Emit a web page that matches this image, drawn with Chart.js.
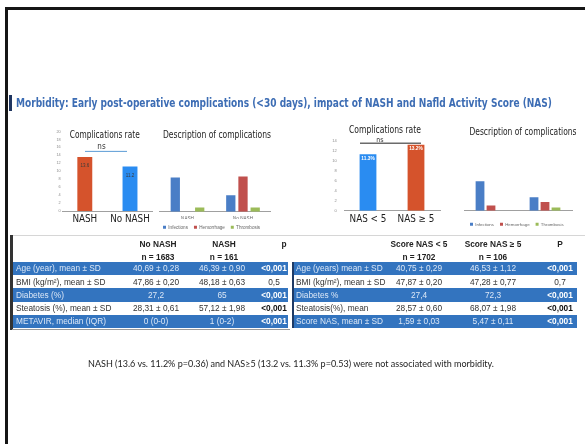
<!DOCTYPE html>
<html>
<head>
<meta charset="utf-8">
<title>Morbidity – early post-operative complications</title>
<script src="https://cdn.jsdelivr.net/npm/chart.js@4.4.1/dist/chart.umd.min.js"></script>
<style>
  html, body { margin: 0; padding: 0; background: #fff; }
  body { position: relative; width: 585px; height: 444px; overflow: hidden; }
  .frame { position: absolute; background: #161616; }
  #pic { position: absolute; left: 0; top: 0; width: 585px; height: 444px; filter: blur(0.3px); }
  #pic canvas { position: absolute; }
  .txt { position: absolute; white-space: nowrap; }
  .box { position: absolute; }
</style>
</head>
<body>
<div class="frame" style="left:5px;top:7px;width:580px;height:3px"></div>
<div class="frame" style="left:5px;top:7px;width:3px;height:437px"></div>
<div id="pic">
  <div class="box" style="left:9px;top:95px;width:3px;height:16px;background:#1f3560"></div>
  <div class="box" style="left:12px;top:235px;width:573px;height:1px;background:#d6d6d6"></div>
  <canvas id="rateNash"></canvas>
  <canvas id="descNash"></canvas>
  <canvas id="rateNas"></canvas>
  <canvas id="descNas"></canvas>
</div>
<script>
// ---------- data ----------
const heading = 'Morbidity: Early post-operative complications (<30 days), impact of NASH and Nafld Activity Score (NAS)';
const footnote = 'NASH (13.6 vs. 11.2% p=0.36) and NAS\u22655 (13.2 vs. 11.3% p=0.53) were not associated with morbidity.';

// complications rate (%)
const rateNashCategories = ['NASH', 'No NASH'];
const rateNashValues = [13.6, 11.2];
const rateNasCategories = ['NAS < 5', 'NAS \u2265 5'];
const rateNasValues = [11.3, 13.2];

// description of complications
const complicationTypes = ['Infections', 'Hemorrhage', 'Thrombosis'];
const descNashCategories = ['NASH', 'No NASH'];
const descNashInfections = [4.2, 2.0];
const descNashHemorrhage = [0, 4.3];
const descNashThrombosis = [0.5, 0.5];
const descNasCategories = ['NAS < 5', 'NAS \u2265 5'];
const descNasInfections = [4.6, 2.1];
const descNasHemorrhage = [0.8, 1.35];
const descNasThrombosis = [0, 0.5];

// axis ranges
const rateNashAxis = { max: 20, step: 2 };
const descNashAxis = { max: 10, step: 1 };
const rateNasAxis = { max: 14, step: 2 };
const descNasAxis = { max: 10, step: 1 };

// characteristics tables
const nashHeaders = [['No NASH', 'NASH', 'p'], ['n = 1683', 'n = 161', '']];
const nashRowLabels = ['Age (year), mean \u00b1 SD', 'BMI (kg/m\u00b2), mean \u00b1 SD', 'Diabetes (%)', 'Steatosis (%), mean \u00b1 SD', 'METAVIR, median (IQR)'];
const noNashValues = ['40,69 \u00b1 0,28', '47,86 \u00b1 0,20', '27,2', '28,31 \u00b1 0,61', '0 (0-0)'];
const nashValues = ['46,39 \u00b1 0,90', '48,18 \u00b1 0,63', '65', '57,12 \u00b1 1,98', '1 (0-2)'];
const nashP = ['<0,001', '0,5', '<0,001', '<0,001', '<0,001'];

const nasHeaders = [['Score NAS < 5', 'Score NAS \u2265 5', 'P'], ['n = 1702', 'n = 106', '']];
const nasRowLabels = ['Age (years) mean \u00b1 SD', 'BMI (kg/m\u00b2), mean \u00b1 SD', 'Diabetes %', 'Steatosis(%), mean', 'Score NAS, mean \u00b1 SD'];
const nasLowValues = ['40,75 \u00b1 0,29', '47,87 \u00b1 0,20', '27,4', '28,57 \u00b1 0,60', '1,59 \u00b1 0,03'];
const nasHighValues = ['46,53 \u00b1 1,12', '47,28 \u00b1 0,77', '72,3', '68,07 \u00b1 1,98', '5,47 \u00b1 0,11'];
const nasP = ['<0,001', '0,7', '<0,001', '<0,001', '<0,001'];

// ---------- styling ----------
const SANS = "'Liberation Sans', Arial, sans-serif";
const NARROW = "'Liberation Sans Narrow', 'DejaVu Sans Condensed', 'Liberation Sans', sans-serif";
const ORANGE = '#d5532c';
const BRIGHT_BLUE = '#2a8cf1';
const INFECTION_BLUE = '#4a7ec6';
const HEMORRHAGE_RED = '#c0504d';
const THROMBOSIS_GREEN = '#9bbb59';
const BAND = '#3374bf';
const BAND_TEXT = '#dbe7f6';

const pic = document.getElementById('pic');

function addText(parent, text, o) {
  const el = document.createElement('div');
  el.className = 'txt';
  el.textContent = text;
  const size = o.size || 8.3;
  const lh = size * 1.25;
  el.style.font = `${o.weight || 'normal'} ${size}px/${lh}px ${o.family || SANS}`;
  el.style.color = o.color || '#333';
  el.style.top = (o.cy - lh / 2) + 'px';
  parent.appendChild(el);
  const w = el.getBoundingClientRect().width;
  el.style.left = (o.align === 'center' ? o.x - w / 2 : o.x) + 'px';
  if (o.fit) {
    el.style.transformOrigin = o.align === 'center' ? 'center center' : 'left center';
    el.style.transform = `scaleX(${o.fit / w})`;
  }
  return el;
}

function addBox(parent, x, y, w, h, color) {
  const el = document.createElement('div');
  el.className = 'box';
  Object.assign(el.style, { left: x + 'px', top: y + 'px', width: w + 'px', height: h + 'px', background: color });
  parent.appendChild(el);
}

// heading
addText(pic, heading, { x: 16, cy: 103, size: 13, weight: 'bold', family: NARROW, color: '#3d6db4', fit: 536 });

// ---------- tables ----------
function drawTable(t) {
  t.headers.forEach((line, li) => line.forEach((h, ci) => {
    if (h) addText(pic, h, { x: t.headerCenters[ci], cy: t.headerY[li], align: 'center', weight: 'bold', color: '#222' });
  }));
  t.labels.forEach((label, r) => {
    const top = t.rowTop + r * t.rowH;
    const banded = r % 2 === 0;
    if (banded) addBox(pic, t.x0, top, t.x1 - t.x0, t.rowH, BAND);
    const cy = top + t.rowH / 2;
    addText(pic, label, { x: t.labelX, cy, color: banded ? BAND_TEXT : '#333' });
    t.columns.forEach((col, ci) => {
      const isP = ci === t.columns.length - 1;
      const strong = isP && col[r].startsWith('<');
      addText(pic, col[r], {
        x: t.colCenters[ci], cy, align: 'center', weight: strong ? 'bold' : 'normal',
        color: banded ? (strong ? '#ffffff' : BAND_TEXT) : (strong ? '#111' : '#333')
      });
    });
  });
}

drawTable({
  x0: 12.5, x1: 288, labelX: 16, colCenters: [156, 222, 274], headerCenters: [158, 224, 284],
  headerY: [244, 257], rowTop: 262, rowH: 13.2, headers: nashHeaders, labels: nashRowLabels,
  columns: [noNashValues, nashValues, nashP]
});
drawTable({
  x0: 293.5, x1: 577, labelX: 296, colCenters: [419, 493, 560], headerCenters: [419, 493, 560],
  headerY: [244, 257], rowTop: 262, rowH: 13.2, headers: nasHeaders, labels: nasRowLabels,
  columns: [nasLowValues, nasHighValues, nasP]
});
addBox(pic, 10, 235, 2.5, 95, '#333');
addBox(pic, 12, 328.5, 278, 1, '#9a9a9a');
addBox(pic, 291.5, 262, 2, 66, '#1f3b66');

// footnote (crisp, outside the picture block)
addText(document.body, footnote, { x: 88, cy: 364, size: 9.5, family: "Lato, 'Open Sans', sans-serif", color: '#222', fit: 406 });

// ---------- charts ----------
function drawFitted(ctx, text, cx, cy, width, font, color) {
  ctx.save();
  ctx.font = font;
  const w = ctx.measureText(text).width;
  ctx.translate(cx, cy);
  ctx.scale(width / w, 1);
  ctx.fillStyle = color;
  ctx.textAlign = 'center';
  ctx.textBaseline = 'middle';
  ctx.fillText(text, 0, 0);
  ctx.restore();
}

// chart titles, significance bracket and bar value labels
const notesPlugin = {
  id: 'notes',
  afterDatasetsDraw(chart, _args, opts) {
    const { ctx } = chart;
    const xs = chart.scales.x, ys = chart.scales.y;
    const o = opts.origin;
    ctx.save();
    if (opts.title) {
      const t = opts.title;
      drawFitted(ctx, t.text, t.cx - o.L, t.cy - o.T, t.width, `${t.size}px ${NARROW}`, '#1c1c1c');
    }
    if (opts.bracket) {
      const b = opts.bracket;
      const yy = ys.getPixelForValue(b.value);
      const x0 = xs.getPixelForValue(0) + b.inset[0];
      const x1 = xs.getPixelForValue(1) + b.inset[1];
      ctx.strokeStyle = b.color;
      ctx.lineWidth = b.lineWidth;
      ctx.beginPath();
      ctx.moveTo(x0, yy);
      ctx.lineTo(x1, yy);
      ctx.stroke();
      ctx.fillStyle = '#333';
      ctx.font = `${b.size}px ${NARROW}`;
      ctx.textAlign = 'center';
      ctx.textBaseline = 'middle';
      ctx.fillText(b.text, (x0 + x1) / 2 + b.dx, yy - b.dy);
    }
    if (opts.values) {
      const v = opts.values;
      const data = chart.data.datasets[0].data;
      ctx.fillStyle = v.color;
      ctx.font = `${v.weight} ${v.size}px ${SANS}`;
      ctx.textAlign = 'center';
      ctx.textBaseline = 'middle';
      chart.getDatasetMeta(0).data.forEach((bar, i) => {
        ctx.fillText(data[i].toFixed(1) + v.suffix, bar.x, bar.y + v.dy);
      });
    }
    ctx.restore();
  }
};

function buildChart(spec) {
  const { L, T, W } = spec.box;
  const a = spec.area;
  let H, xh, padL = 0, padB = 0;
  if (spec.legend) {
    const lg = spec.legend;
    const itemH = Math.max(lg.size, lg.box);
    const legendTop = lg.centerY - lg.pad - itemH / 2;
    const bottom = legendTop + itemH + lg.pad + 10;
    xh = legendTop - a.bottom;
    H = Math.ceil(bottom - T);
    padB = T + H - bottom;
    padL = lg.startX - lg.pad - L;
  } else {
    H = spec.box.H;
    xh = T + H - a.bottom;
  }
  const yW = Math.max(0, a.left - L - padL);
  const canvas = document.getElementById(spec.id);
  canvas.width = W;
  canvas.height = H;
  Object.assign(canvas.style, { left: L + 'px', top: T + 'px', width: W + 'px', height: H + 'px' });

  return new Chart(canvas, {
    type: 'bar',
    data: { labels: spec.labels, datasets: spec.datasets },
    options: {
      responsive: false,
      animation: false,
      devicePixelRatio: 1,
      layout: { padding: { left: padL, right: L + W - a.right, top: a.top - T, bottom: padB } },
      scales: {
        x: {
          grid: { display: false, drawTicks: false },
          border: { display: true, color: '#a0a0a0', width: 1 },
          ticks: { font: { size: spec.xFont, family: spec.xFamily }, color: spec.xColor, padding: spec.xPad, maxRotation: 0, autoSkip: false },
          afterFit: s => { s.height = xh; }
        },
        y: {
          min: 0, max: spec.axis.max,
          grid: { display: false, drawTicks: false },
          border: { display: false },
          ticks: { stepSize: spec.axis.step, font: { size: spec.yFont, family: SANS }, color: '#8a8a8a', padding: spec.yPad },
          afterFit: s => { s.width = yW; }
        }
      },
      plugins: {
        legend: spec.legend ? {
          display: true, position: 'bottom', align: 'start', fullSize: true,
          labels: { font: { size: spec.legend.size, family: SANS }, color: '#666', boxWidth: spec.legend.box, boxHeight: spec.legend.box, padding: spec.legend.pad }
        } : { display: false },
        tooltip: { enabled: false },
        notes: Object.assign({ origin: { L, T } }, spec.notes)
      }
    },
    plugins: [notesPlugin]
  });
}

function groupDatasets(inf, hem, thr, catPct, barPct) {
  return [
    { label: complicationTypes[0], data: inf, backgroundColor: INFECTION_BLUE, categoryPercentage: catPct, barPercentage: barPct },
    { label: complicationTypes[1], data: hem, backgroundColor: HEMORRHAGE_RED, categoryPercentage: catPct, barPercentage: barPct },
    { label: complicationTypes[2], data: thr, backgroundColor: THROMBOSIS_GREEN, categoryPercentage: catPct, barPercentage: barPct }
  ];
}

buildChart({
  id: 'rateNash',
  box: { L: 36, T: 122, W: 122, H: 110 },
  area: { left: 62.2, right: 152.6, top: 131.5, bottom: 211 },
  labels: rateNashCategories,
  datasets: [{ data: rateNashValues, backgroundColor: [ORANGE, BRIGHT_BLUE], categoryPercentage: 1, barPercentage: 0.33 }],
  axis: rateNashAxis, yFont: 3.8, yPad: 1.5,
  xFont: 9.8, xFamily: NARROW, xColor: '#1c1c1c', xPad: 3,
  notes: {
    title: { text: 'Complications rate', cx: 104.7, cy: 135.5, width: 70, size: 10.5 },
    bracket: { value: 15, inset: [0.2, -3], color: '#5b9bd5', lineWidth: 1, text: 'ns', size: 8, dx: -4.5, dy: 4.7 },
    values: { color: '#3a3a3a', size: 4.5, weight: 'normal', dy: 9, suffix: '' }
  }
});

buildChart({
  id: 'descNash',
  box: { L: 146, T: 122, W: 130 },
  area: { left: 159.75, right: 270.75, top: 130, bottom: 211.7 },
  labels: descNashCategories,
  datasets: groupDatasets(descNashInfections, descNashHemorrhage, descNashThrombosis, 0.66, 0.76),
  axis: descNashAxis, yFont: 3.8, yPad: 4.75,
  xFont: 4.6, xFamily: SANS, xColor: '#666', xPad: 4.5,
  legend: { startX: 163, centerY: 227.3, size: 4.6, box: 3, pad: 6 },
  notes: {
    title: { text: 'Description of complications', cx: 217, cy: 135, width: 108, size: 11 }
  }
});

buildChart({
  id: 'rateNas',
  box: { L: 318, T: 118, W: 126, H: 114 },
  area: { left: 344, right: 440, top: 140.7, bottom: 210.7 },
  labels: rateNasCategories,
  datasets: [{ data: rateNasValues, backgroundColor: [BRIGHT_BLUE, ORANGE], categoryPercentage: 1, barPercentage: 0.35 }],
  axis: rateNasAxis, yFont: 4, yPad: 7.3,
  xFont: 9.8, xFamily: NARROW, xColor: '#1c1c1c', xPad: 3.3,
  notes: {
    title: { text: 'Complications rate', cx: 385, cy: 130, width: 72, size: 10.5 },
    bracket: { value: 13.5, inset: [-8, 5], color: '#6b6b6b', lineWidth: 1.5, text: 'ns', size: 7, dx: -10.5, dy: 3.5 },
    values: { color: '#ffffff', size: 4.8, weight: 'bold', dy: 4, suffix: '%' }
  }
});

buildChart({
  id: 'descNas',
  box: { L: 440, T: 122, W: 145 },
  area: { left: 464, right: 572, top: 146.7, bottom: 210.7 },
  labels: descNasCategories,
  datasets: groupDatasets(descNasInfections, descNasHemorrhage, descNasThrombosis, 0.61, 0.8),
  axis: descNasAxis, yFont: 3.6, yPad: 6.7,
  xFont: 4.4, xFamily: SANS, xColor: '#666', xPad: 4.2,
  legend: { startX: 470, centerY: 224.3, size: 4.4, box: 3, pad: 6 },
  notes: {
    title: { text: 'Description of complications', cx: 523, cy: 131.7, width: 107, size: 11 }
  }
});
</script>
</body>
</html>
